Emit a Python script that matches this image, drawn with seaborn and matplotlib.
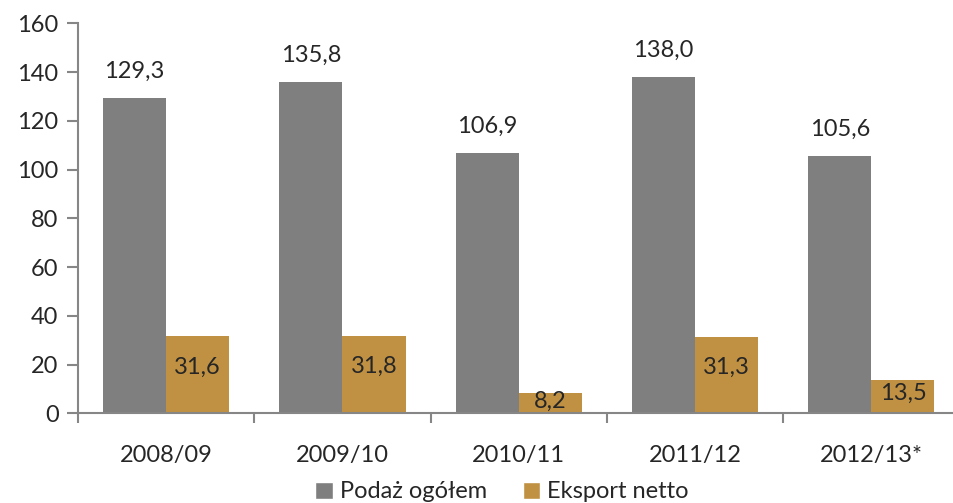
import matplotlib
matplotlib.use("Agg")
import matplotlib.pyplot as plt
import seaborn as sns
import pandas as pd
from matplotlib.patches import Patch

categories = ["2008/09", "2009/10", "2010/11", "2011/12", "2012/13*"]
podaz = [129.3, 135.8, 106.9, 138.0, 105.6]
eksport = [31.6, 31.8, 8.2, 31.3, 13.5]
series_names = ["Podaż ogółem", "Eksport netto"]
colors = ["#7F7F7F", "#C09142"]

sns.set_style("white")
plt.rcParams["font.family"] = ["Lato", "DejaVu Sans"]

df = pd.DataFrame({
    "cat": categories * 2,
    "val": podaz + eksport,
    "series": [series_names[0]] * len(categories) + [series_names[1]] * len(categories),
})

fig = plt.figure(figsize=(9.54, 5.03), dpi=100)
ax = fig.add_axes([78 / 954, 89.7 / 503, 881.5 / 954, 390 / 503])

sns.barplot(data=df, x="cat", y="val", hue="series", palette=colors,
            width=0.716, dodge=True, ax=ax, legend=False, saturation=1,
            errorbar=None, linewidth=0)

fs = 17
conts = ax.containers
for i, v in enumerate(podaz):
    bar = conts[0][i]
    xc = bar.get_x() + bar.get_width() / 2
    ax.text(xc, v + 11, f"{v:.1f}".replace(".", ","), ha="center", va="center", fontsize=fs)
for i, v in enumerate(eksport):
    bar = conts[1][i]
    xc = bar.get_x() + bar.get_width() / 2
    ax.text(xc, v * 0.6, f"{v:.1f}".replace(".", ","), ha="center", va="center", fontsize=fs)

ax.set_ylim(0, 160)
ax.set_xlim(-0.5, 4.5)
ax.set_yticks(range(0, 161, 20))
ax.set_xlabel("")
ax.set_ylabel("")
ax.set_xticks(range(len(categories)))
ax.set_xticklabels(categories)
ax.set_xticks([i - 0.5 for i in range(len(categories) + 1)], minor=True)
ax.tick_params(axis="x", which="major", length=0, pad=23, labelsize=fs)
ax.tick_params(axis="x", which="minor", length=7, width=1.5, color="#868686", direction="out", bottom=True)
ax.tick_params(axis="y", length=8, width=1.5, color="#868686", direction="out", left=True, labelsize=fs, pad=6)

for s in ["top", "right"]:
    ax.spines[s].set_visible(False)
for s in ["left", "bottom"]:
    ax.spines[s].set_color("#868686")
    ax.spines[s].set_linewidth(1.5)

handles = [Patch(facecolor=colors[0]), Patch(facecolor=colors[1])]
fig.legend(handles, series_names, loc="center", bbox_to_anchor=(502 / 954, 11 / 503),
           ncol=2, frameon=False, fontsize=fs, handlelength=0.75, handleheight=0.75,
           handletextpad=0.3, columnspacing=1.5, borderaxespad=0)

fig.savefig("out.png", dpi=100)
